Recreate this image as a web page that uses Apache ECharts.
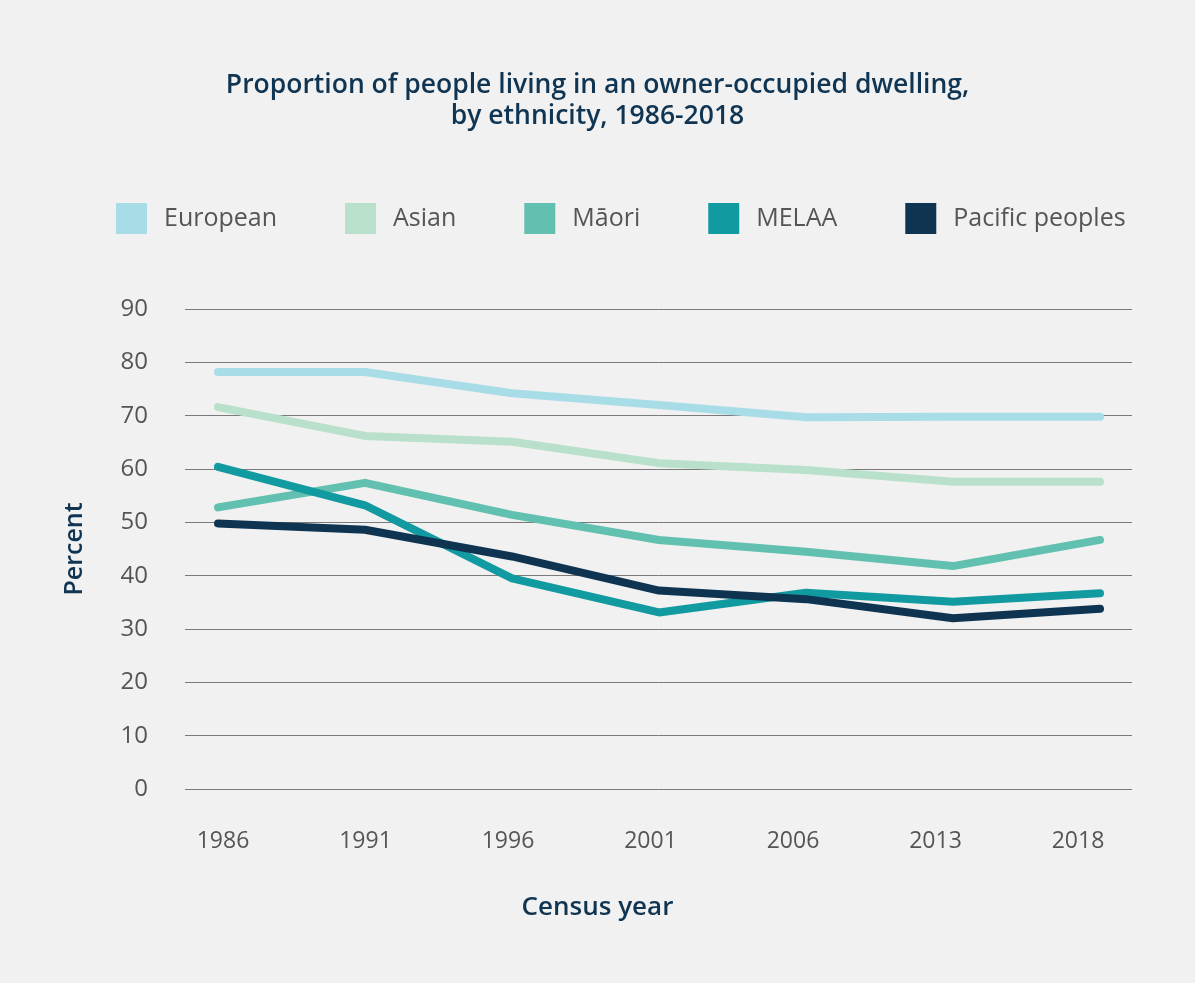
<!DOCTYPE html>
<html><head><meta charset="utf-8">
<script src="https://cdn.jsdelivr.net/npm/echarts@6/dist/echarts.min.js"></script>
<style>html,body{margin:0;padding:0;background:#f1f1f1;}#c{width:1195px;height:983px;}</style>
</head><body><div id="c"></div>
<script>
const years = ['1986','1991','1996','2001','2006','2013','2018'];
const yTicks = [0, 90, 10]; // min, max, interval
const european = [78.2, 78.2, 74.2, 72.0, 69.7, 69.8, 69.8];
const asian    = [71.6, 66.2, 65.1, 61.1, 59.8, 57.6, 57.6];
const maori    = [52.8, 57.4, 51.4, 46.7, 44.5, 41.8, 46.7];
const melaa    = [60.4, 53.2, 39.5, 33.1, 36.8, 35.1, 36.7];
const pacific  = [49.8, 48.6, 43.6, 37.2, 35.6, 32.0, 33.8];
const names = ['European','Asian','Māori','MELAA','Pacific peoples'];
const colors = ['#a8dde8','#b8e0cb','#62c0b0','#119a9f','#0e3452'];

const font = 'Open Sans';
const chart = echarts.init(document.getElementById('c'));
const seriesData = [european, asian, maori, melaa, pacific];
chart.setOption({
  backgroundColor: '#f1f1f1',
  animation: false,
  color: colors,
  title: [
    {text: 'Proportion of people living in an owner-occupied dwelling,\nby ethnicity, 1986-2018', left: 'center', top: 65,
     textStyle: {fontFamily: font, fontSize: 26.5, fontWeight: 600, color: '#0f3553', lineHeight: 31}},
    {text: 'Census year', left: 'center', top: 890,
     textStyle: {fontFamily: font, fontSize: 26, fontWeight: 600, color: '#0f3553'}}
  ],
  legend: {
    left: 116, top: 203, padding: 0, itemWidth: 31, itemHeight: 31, itemGap: 68, icon: 'rect',
    textStyle: {fontFamily: font, fontSize: 25, color: '#555', padding: [0,0,0,12]},
    data: names
  },
  grid: [
    {left: 185, right: 63, top: 309, bottom: 194},
    {left: 218, right: 95, top: 309, bottom: 194},
    {left: 223, right: 117, top: 309, bottom: 194}
  ],
  xAxis: [
    {gridIndex: 0, type: 'category', data: years, show: false},
    {gridIndex: 1, type: 'category', data: years, boundaryGap: false, show: false},
    {gridIndex: 2, type: 'category', data: years, boundaryGap: false,
     axisLine: {show: false}, axisTick: {show: false}, splitLine: {show: false},
     axisLabel: {margin: 41, fontFamily: font, fontSize: 23, color: '#555'}}
  ],
  yAxis: [
    {gridIndex: 0, type: 'value', min: yTicks[0], max: yTicks[1], interval: yTicks[2],
     name: 'Percent', nameLocation: 'middle', nameGap: 98, nameRotate: 90,
     nameTextStyle: {fontFamily: font, fontSize: 25, fontWeight: 600, color: '#0f3553'},
     axisLine: {show: false}, axisTick: {show: false},
     axisLabel: {margin: 37, fontFamily: font, fontSize: 24, color: '#555'},
     splitLine: {lineStyle: {color: '#7a7a7a', width: 1}}},
    {gridIndex: 1, type: 'value', min: yTicks[0], max: yTicks[1], interval: yTicks[2], show: false, splitLine: {show: false}},
    {gridIndex: 2, type: 'value', min: yTicks[0], max: yTicks[1], interval: yTicks[2], show: false, splitLine: {show: false}}
  ],
  series: names.map((n, i) => ({
    name: n, type: 'line', xAxisIndex: 1, yAxisIndex: 1, data: seriesData[i],
    symbol: 'none', lineStyle: {width: 8, cap: 'round', join: 'round', color: colors[i]},
    itemStyle: {color: colors[i]}
  }))
});
</script></body></html>
